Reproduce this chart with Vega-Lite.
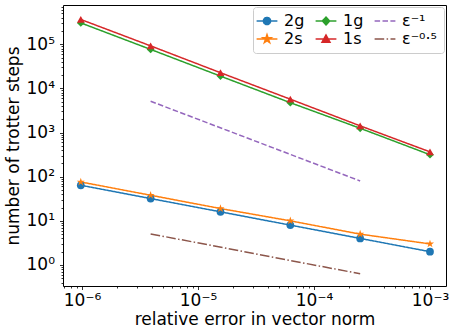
{
  "$schema": "https://vega.github.io/schema/vega-lite/v6.json",
  "width": 383,
  "height": 281,
  "autosize": {"type": "none"},
  "padding": {"left": 63, "top": 5, "right": 11, "bottom": 50},
  "config": {
    "font": "DejaVu Sans",
    "view": {"stroke": "black", "strokeWidth": 1},
    "axis": {
      "domain": false,
      "grid": false,
      "labelFont": "DejaVu Sans",
      "labelFontSize": 17,
      "labelColor": "black",
      "tickColor": "black",
      "tickWidth": 0.8,
      "titleFont": "DejaVu Sans",
      "titleFontSize": 17,
      "titleFontWeight": "normal",
      "titleColor": "black",
      "labelOverlap": false,
      "labelFlush": false
    }
  },
  "data": {
    "values": [
      {"series": "2g", "err": 9.765625e-7, "steps": 64},
      {"series": "2g", "err": 3.90625e-6, "steps": 32},
      {"series": "2g", "err": 1.5625e-5, "steps": 16},
      {"series": "2g", "err": 6.25e-5, "steps": 8},
      {"series": "2g", "err": 2.5e-4, "steps": 4},
      {"series": "2g", "err": 1e-3, "steps": 2},
      {"series": "2s", "err": 9.765625e-7, "steps": 76},
      {"series": "2s", "err": 3.90625e-6, "steps": 38},
      {"series": "2s", "err": 1.5625e-5, "steps": 19},
      {"series": "2s", "err": 6.25e-5, "steps": 10},
      {"series": "2s", "err": 2.5e-4, "steps": 5},
      {"series": "2s", "err": 1e-3, "steps": 3},
      {"series": "1g", "err": 9.765625e-7, "steps": 305000},
      {"series": "1g", "err": 3.90625e-6, "steps": 76500},
      {"series": "1g", "err": 1.5625e-5, "steps": 19000},
      {"series": "1g", "err": 6.25e-5, "steps": 4750},
      {"series": "1g", "err": 2.5e-4, "steps": 1250},
      {"series": "1g", "err": 1e-3, "steps": 315},
      {"series": "1s", "err": 9.765625e-7, "steps": 365000},
      {"series": "1s", "err": 3.90625e-6, "steps": 92000},
      {"series": "1s", "err": 1.5625e-5, "steps": 22700},
      {"series": "1s", "err": 6.25e-5, "steps": 5700},
      {"series": "1s", "err": 2.5e-4, "steps": 1420},
      {"series": "1s", "err": 1e-3, "steps": 365},
      {"series": "ε⁻¹", "err": 3.90625e-6, "steps": 5120},
      {"series": "ε⁻¹", "err": 2.5e-4, "steps": 80},
      {"series": "ε⁻⁰·⁵", "err": 3.90625e-6, "steps": 5.06},
      {"series": "ε⁻⁰·⁵", "err": 2.5e-4, "steps": 0.632}
    ]
  },
  "encoding": {
    "x": {
      "field": "err",
      "type": "quantitative",
      "scale": {"type": "log", "domain": [6.86e-7, 1.374e-3], "nice": false},
      "axis": {
        "title": "relative error in vector norm",
        "titlePadding": 3,
        "values": [7e-7, 8e-7, 9e-7, 1e-6, 2e-6, 3e-6, 4e-6, 5e-6, 6e-6, 7e-6, 8e-6, 9e-6, 1e-5, 2e-5, 3e-5, 4e-5, 5e-5, 6e-5, 7e-5, 8e-5, 9e-5, 1e-4, 2e-4, 3e-4, 4e-4, 5e-4, 6e-4, 7e-4, 8e-4, 9e-4, 1e-3],
        "labelExpr": "abs(log(datum.value)/LN10 - round(log(datum.value)/LN10)) < 0.001 ? '10' + (round(log(datum.value)/LN10) < 0 ? '⁻' : '') + ['⁰','¹','²','³','⁴','⁵','⁶','⁷','⁸','⁹'][abs(round(log(datum.value)/LN10))] : ''",
        "tickSize": {"condition": {"test": "abs(log(datum.value)/LN10 - round(log(datum.value)/LN10)) < 0.001", "value": 3.5}, "value": 2},
        "labelPadding": 3
      }
    },
    "y": {
      "field": "steps",
      "type": "quantitative",
      "scale": {"type": "log", "domain": [0.334, 776000], "nice": false},
      "axis": {
        "title": "number of trotter steps",
        "titlePadding": 4,
        "values": [0.4, 0.5, 0.6, 0.7, 0.8, 0.9, 1, 2, 3, 4, 5, 6, 7, 8, 9, 10, 20, 30, 40, 50, 60, 70, 80, 90, 100, 200, 300, 400, 500, 600, 700, 800, 900, 1000, 2000, 3000, 4000, 5000, 6000, 7000, 8000, 9000, 10000, 20000, 30000, 40000, 50000, 60000, 70000, 80000, 90000, 100000, 200000, 300000, 400000, 500000, 600000, 700000],
        "labelExpr": "abs(log(datum.value)/LN10 - round(log(datum.value)/LN10)) < 0.001 ? '10' + (round(log(datum.value)/LN10) < 0 ? '⁻' : '') + ['⁰','¹','²','³','⁴','⁵','⁶','⁷','⁸','⁹'][abs(round(log(datum.value)/LN10))] : ''",
        "tickSize": {"condition": {"test": "abs(log(datum.value)/LN10 - round(log(datum.value)/LN10)) < 0.001", "value": 3.5}, "value": 2},
        "labelPadding": 5
      }
    }
  },
  "layer": [
    {
      "mark": {"type": "line", "strokeWidth": 1.5},
      "encoding": {
        "color": {
          "field": "series",
          "type": "nominal",
          "scale": {
            "domain": ["2g", "2s", "1g", "1s", "ε⁻¹", "ε⁻⁰·⁵"],
            "range": ["#1f77b4", "#ff7f0e", "#2ca02c", "#d62728", "#9467bd", "#8c564b"]
          },
          "legend": {
            "title": null,
            "orient": "top-right",
            "offset": 2,
            "columns": 3,
            "columnPadding": 7,
            "rowPadding": 2,
            "padding": 6,
            "symbolSize": 64,
            "symbolStrokeWidth": 1.5,
            "symbolOpacity": 1,
            "labelOffset": 9,
            "labelFontSize": 16,
            "labelFont": "DejaVu Sans",
            "labelColor": "black",
            "fillColor": "rgba(255,255,255,0.8)",
            "strokeColor": "#cccccc",
            "cornerRadius": 3,
            "encode": {
              "symbols": {
                "update": {
                  "shape": {"signal": "datum.value === '2g' ? 'M-2.6,0H2.6M0.9,0A0.9,0.9,0,1,1,-0.9,0A0.9,0.9,0,1,1,0.9,0Z' : datum.value === '2s' ? 'M-2.6,0H2.6M0,-1.1L0.247,-0.34L1.046,-0.34L0.4,0.13L0.647,0.89L0,0.42L-0.647,0.89L-0.4,0.13L-1.046,-0.34L-0.247,-0.34Z' : datum.value === '1g' ? 'M-2.6,0H2.6M0,-1L0.9,0L0,1L-0.9,0Z' : datum.value === '1s' ? 'M-2.6,0H2.6M0,-1L1,0.8L-1,0.8Z' : 'M-2.6,0H2.6'"},
                  "strokeDash": {"signal": "datum.value === 'ε⁻¹' ? [3.5,1.8] : datum.value === 'ε⁻⁰·⁵' ? [5,1.6,1.2,1.6] : [1,0]"},
                  "fill": {"scale": "color", "field": "value"},
                  "stroke": {"scale": "color", "field": "value"},
                  "opacity": {"value": 1}
                }
              }
            }
          }
        },
        "strokeDash": {
          "field": "series",
          "type": "nominal",
          "scale": {
            "domain": ["2g", "2s", "1g", "1s", "ε⁻¹", "ε⁻⁰·⁵"],
            "range": [[1, 0], [1, 0], [1, 0], [1, 0], [5.5, 2.4], [9.6, 2.4, 1.5, 2.4]]
          },
          "legend": null
        }
      }
    },
    {
      "transform": [{"filter": {"field": "series", "oneOf": ["2g", "2s", "1g", "1s"]}}],
      "mark": {"type": "point", "filled": true, "size": 60, "opacity": 1, "strokeWidth": 0},
      "encoding": {
        "color": {"field": "series", "type": "nominal"},
        "shape": {
          "field": "series",
          "type": "nominal",
          "scale": {
            "domain": ["2g", "2s", "1g", "1s"],
            "range": ["circle", "M0,-1.1L0.247,-0.34L1.046,-0.34L0.4,0.13L0.647,0.89L0,0.42L-0.647,0.89L-0.4,0.13L-1.046,-0.34L-0.247,-0.34Z", "diamond", "triangle-up"]
          },
          "legend": null
        }
      }
    }
  ]
}
